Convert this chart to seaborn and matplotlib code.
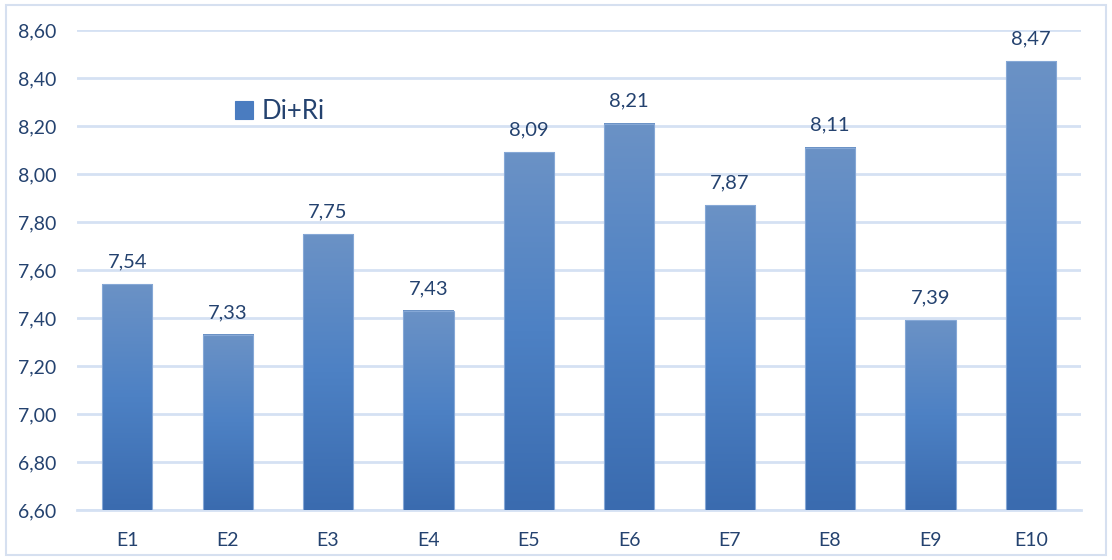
import numpy as np
import pandas as pd
import seaborn as sns
import matplotlib.pyplot as plt
from matplotlib.colors import LinearSegmentedColormap
from matplotlib.patches import Rectangle

categories = ["E1", "E2", "E3", "E4", "E5", "E6", "E7", "E8", "E9", "E10"]
values = [7.54, 7.33, 7.75, 7.43, 8.09, 8.21, 7.87, 8.11, 7.39, 8.47]
series_name = "Di+Ri"
y_ticks = [6.60, 6.80, 7.00, 7.20, 7.40, 7.60, 7.80, 8.00, 8.20, 8.40, 8.60]

sns.set_theme(style="white")
plt.rcParams["font.family"] = ["Lato", "DejaVu Sans"]

text_color = "#24426f"
grid_color = "#d5e1f3"

df = pd.DataFrame({"cat": categories, "val": values})

fig = plt.figure(figsize=(11.12, 5.6), dpi=100)
ax = fig.add_axes([77 / 1112, 1 - 510 / 560, (1081 - 77) / 1112, 480 / 560])

sns.barplot(data=df, x="cat", y="val", ax=ax, color="#4a7cc0", width=0.5,
            saturation=1, zorder=3, label=series_name)

ymin, ymax = y_ticks[0], y_ticks[-1]
ax.set_ylim(ymin, ymax)
ax.set_xlim(-0.5, len(categories) - 0.5)
ax.set_yticks(y_ticks)
ax.set_yticklabels([f"{t:.2f}".replace(".", ",") for t in y_ticks])
ax.yaxis.grid(True, color=grid_color, linewidth=2, zorder=0)
ax.set_axisbelow(True)
for s in ax.spines.values():
    s.set_visible(False)
ax.spines["bottom"].set_visible(True)
ax.spines["bottom"].set_color(grid_color)
ax.spines["bottom"].set_linewidth(2)
ax.set_xlabel("")
ax.set_ylabel("")
ax.tick_params(axis="both", length=0, labelsize=14, colors=text_color)
ax.tick_params(axis="x", pad=16)
ax.tick_params(axis="y", pad=15)

# vertical gradient fill over the visible part of each bar
cmap = LinearSegmentedColormap.from_list("bar", ["#3a6baf", "#4d81c4", "#6b92c6"])
grad = np.linspace(0, 1, 256).reshape(-1, 1)
for bar, v in zip(ax.patches, values):
    x0, w = bar.get_x(), bar.get_width()
    bar.set_facecolor("none")
    bar.set_edgecolor("#86a8d6")
    bar.set_linewidth(0.8)
    bar.set_zorder(4)
    ax.imshow(grad, cmap=cmap, aspect="auto", origin="lower",
              extent=[x0, x0 + w, ymin, v], zorder=3.5)
    ax.annotate(f"{v:.2f}".replace(".", ","), (x0 + w / 2, v),
                xytext=(0, 10), textcoords="offset points",
                ha="center", va="bottom", fontsize=14.5, color=text_color)

ax.set_xlim(-0.5, len(categories) - 0.5)
ax.set_ylim(ymin, ymax)

leg = ax.legend(loc="upper left", bbox_to_anchor=(0.147, 0.878), frameon=False,
                handlelength=0.7, handleheight=0.7, handletextpad=0.35,
                fontsize=18.5, labelcolor=text_color, borderaxespad=0)
for h in leg.legend_handles:
    h.set_facecolor("#4a7cc0")
    h.set_edgecolor("#4a7cc0")

# outer chart border
fig.patches.append(Rectangle((6 / 1112, 5 / 560), 1100 / 1112, 550 / 560,
                             transform=fig.transFigure, fill=False,
                             edgecolor="#d6e0f0", linewidth=1.5))

fig.savefig("out.png", dpi=100, facecolor="white")
